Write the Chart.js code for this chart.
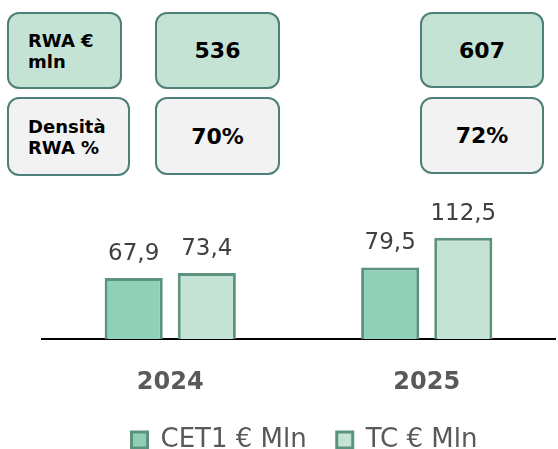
<!DOCTYPE html>
<html>
<head>
<meta charset="utf-8">
<script src="https://cdn.jsdelivr.net/npm/chart.js@4"></script>
<style>
  body { margin: 0; background: #fff; overflow: hidden; }
  #wrap { position: relative; width: 558px; height: 449px; overflow: hidden; }
  #myChart { position: absolute; left: 0; top: 0; }
  .box {
    position: absolute;
    box-sizing: border-box;
    border: 2.5px solid #4e7f78;
    border-radius: 12px;
    font-family: 'DejaVu Sans', sans-serif;
    font-weight: bold;
    color: #000;
    display: flex;
    align-items: center;
  }
  .green { background: #c5e3d5; }
  .grey { background: #f2f2f2; }
  .head { font-size: 18px; line-height: 21px; padding-left: 19px; }
  .val { font-size: 22px; justify-content: center; }
</style>
</head>
<body>
<div id="wrap">
  <canvas id="myChart" width="558" height="463"></canvas>
  <div class="box green head" style="left:7px;top:12px;width:115px;height:77px;">RWA €<br>mln</div>
  <div class="box grey head" style="left:7px;top:97px;width:123px;height:79px;">Densità<br>RWA %</div>
  <div class="box green val" id="rwa0" style="left:155px;top:12px;width:125px;height:77px;"></div>
  <div class="box green val" id="rwa1" style="left:420px;top:12px;width:124px;height:76px;"></div>
  <div class="box grey val" id="dens0" style="left:155px;top:97px;width:125px;height:78px;"></div>
  <div class="box grey val" id="dens1" style="left:420px;top:97px;width:124px;height:77px;"></div>
</div>
<script>
// Categories and values
const years = ['2024', '2025'];
const cet1 = [67.9, 79.5];
const tc = [73.4, 112.5];

// Box values above the chart
const rwa = ['536', '607'];
const density = ['70%', '72%'];

rwa.forEach((v, i) => { document.getElementById('rwa' + i).textContent = v; });
density.forEach((v, i) => { document.getElementById('dens' + i).textContent = v; });

// Draws the value above each bar.
const valueLabels = {
  id: 'valueLabels',
  afterDatasetsDraw(chart) {
    const ctx = chart.ctx;
    ctx.save();
    ctx.font = '23px "DejaVu Sans"';
    ctx.fillStyle = '#404040';
    ctx.textAlign = 'center';
    ctx.textBaseline = 'alphabetic';
    chart.data.datasets.forEach((ds, di) => {
      chart.getDatasetMeta(di).data.forEach((bar, i) => {
        const txt = ds.data[i].toFixed(1).replace('.', ',');
        ctx.fillText(txt, bar.x, bar.y - 18);
      });
    });
    ctx.restore();
  }
};

// Nudge the legend a little to the right, like the original.
const legendShift = {
  id: 'legendShift',
  afterLayout(chart) {
    chart.legend.left += 6;
    chart.legend.right += 6;
  }
};

const data = {
  labels: years,
  datasets: [
    {
      label: 'CET1 € Mln',
      data: cet1,
      backgroundColor: '#8fd0b7',
      borderColor: '#5b9380',
      borderWidth: 3,
    },
    {
      label: 'TC € Mln',
      data: tc,
      backgroundColor: '#c5e3d5',
      borderColor: '#5b9380',
      borderWidth: 3,
    },
  ],
};

const config = {
  type: 'bar',
  data: data,
  options: {
    responsive: false,
    animation: false,
    categoryPercentage: 0.57,
    barPercentage: 0.795,
    layout: { padding: { top: 177, left: 42, right: 3, bottom: 0 } },
    scales: {
      x: {
        grid: { display: false },
        border: { display: true, color: '#000', width: 2 },
        ticks: {
          color: '#595959',
          font: { family: 'DejaVu Sans', size: 24, weight: 'bold' },
          padding: 21,
        },
        // keep the axis block short so the legend sits close below
        afterFit: (scale) => { scale.height = 58; },
      },
      y: {
        display: false,
        min: 0,
        max: 180,
      },
    },
    plugins: {
      tooltip: { enabled: false },
      legend: {
        position: 'bottom',
        labels: {
          boxWidth: 16,
          boxHeight: 16,
          padding: 30,
          color: '#595959',
          font: { family: 'DejaVu Sans', size: 26 },
        },
      },
    },
  },
  plugins: [valueLabels, legendShift],
};

const chart = new Chart(document.getElementById('myChart'), config);
</script>
</body>
</html>
